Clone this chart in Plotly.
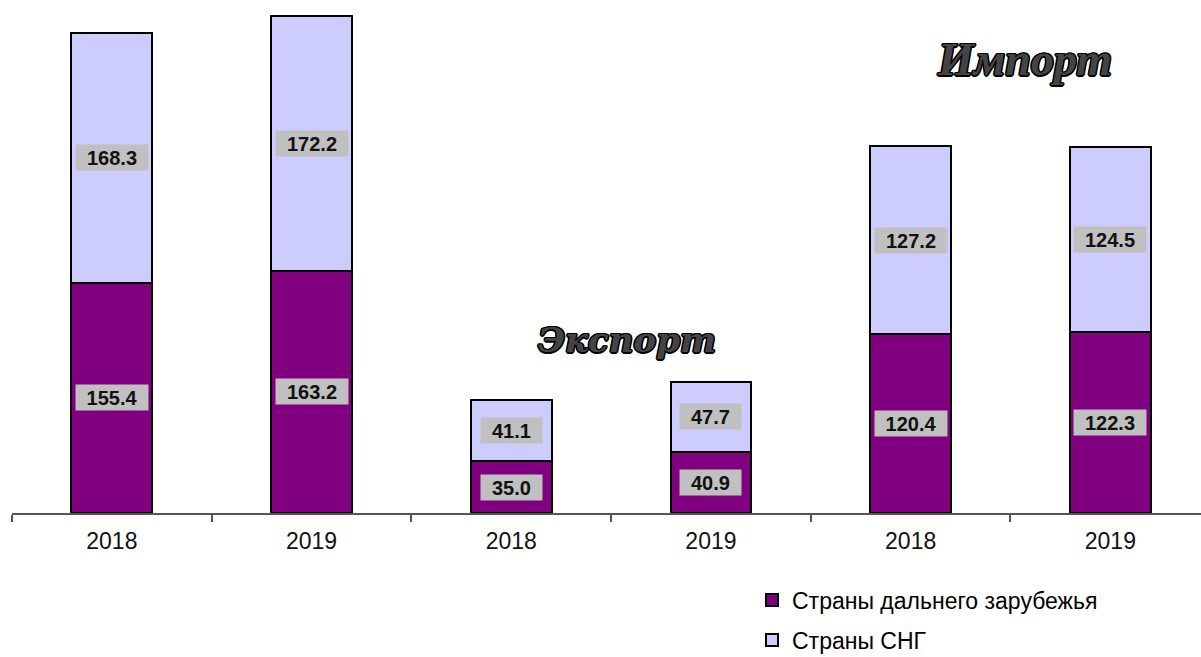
import plotly.graph_objects as go

year_labels = ["2018", "2019", "2018", "2019", "2018", "2019"]
far_abroad = [155.4, 163.2, 35.0, 40.9, 120.4, 122.3]
cis = [168.3, 172.2, 41.1, 47.7, 127.2, 124.5]
series_names = ["Страны дальнего зарубежья", "Страны СНГ"]
group_titles = ["Экспорт", "Импорт"]

x = list(range(len(year_labels)))
PURPLE = "#800080"
LAVENDER = "#CCCCFF"

fig = go.Figure()
fig.add_trace(go.Bar(x=x, y=far_abroad, name=series_names[0], marker=dict(color=PURPLE, line=dict(color="black", width=2)),
                     width=0.405, legendgroup="a"))
fig.add_trace(go.Bar(x=x, y=cis, name=series_names[1], marker=dict(color=LAVENDER, line=dict(color="black", width=2)),
                     width=0.405, legendgroup="b"))

LS = 20
def tw(s, size=LS):
    w = 0
    for ch in s:
        w += 0.278 * size if ch == "." else 0.556 * size
    return w

label_font = dict(family="Arial, Liberation Sans", size=LS, color="#111", weight="bold")
for i in x:
    for base, val in ((0, far_abroad[i]), (far_abroad[i], cis[i])):
        s = f"{val:.1f}"
        fig.add_annotation(x=i, y=base + val / 2, xref="x", yref="y", text=s, showarrow=False,
                           font=label_font, bgcolor="#C0C0C0", borderpad=1,
                           width=tw(s) + 20, height=23)

outline = "1px 1px 0 #000, -1px -1px 0 #000, 1px -1px 0 #000, -1px 1px 0 #000, 1.5px 0 0 #000, -1.5px 0 0 #000, 0 1.5px 0 #000, 0 -1.5px 0 #000"
fig.add_annotation(x=2.58, y=116.7, xref="x", yref="y", text=group_titles[0], showarrow=False,
                   font=dict(family="DejaVu Serif", size=34, color="#444", weight="bold", style="italic", shadow=outline))
fig.add_annotation(x=4.57, y=305.5, xref="x", yref="y", text=group_titles[1], showarrow=False,
                   font=dict(family="Liberation Serif", size=46, color="#444", weight="bold", style="italic", shadow=outline))

fig.update_layout(
    width=1201, height=657,
    margin=dict(l=12, r=0, t=0, b=144, autoexpand=False),
    plot_bgcolor="white", paper_bgcolor="white",
    barmode="stack",
    showlegend=True,
    legend=dict(x=(752 - 12) / 1189, y=-0.128, xanchor="left", yanchor="top",
                traceorder="grouped", tracegroupgap=7,
                font=dict(family="Arial, Liberation Sans", size=23, color="black"),
                bgcolor="rgba(0,0,0,0)"),
    xaxis=dict(range=[-0.5, 5.454], tickmode="array", tickvals=x, ticktext=year_labels,
               ticks="", showgrid=False, zeroline=False, showline=True, linecolor="#555", linewidth=2,
               ticklabelstandoff=6,
               tickfont=dict(family="Arial, Liberation Sans", size=23, color="#111"),
               minor=dict(tickmode="linear", tick0=-0.5, dtick=1, ticks="outside", ticklen=7,
                          tickcolor="#555", tickwidth=2, showgrid=False)),
    yaxis=dict(range=[0, 345.9], visible=False, showgrid=False, zeroline=False),
)

fig.write_html("out.html")
